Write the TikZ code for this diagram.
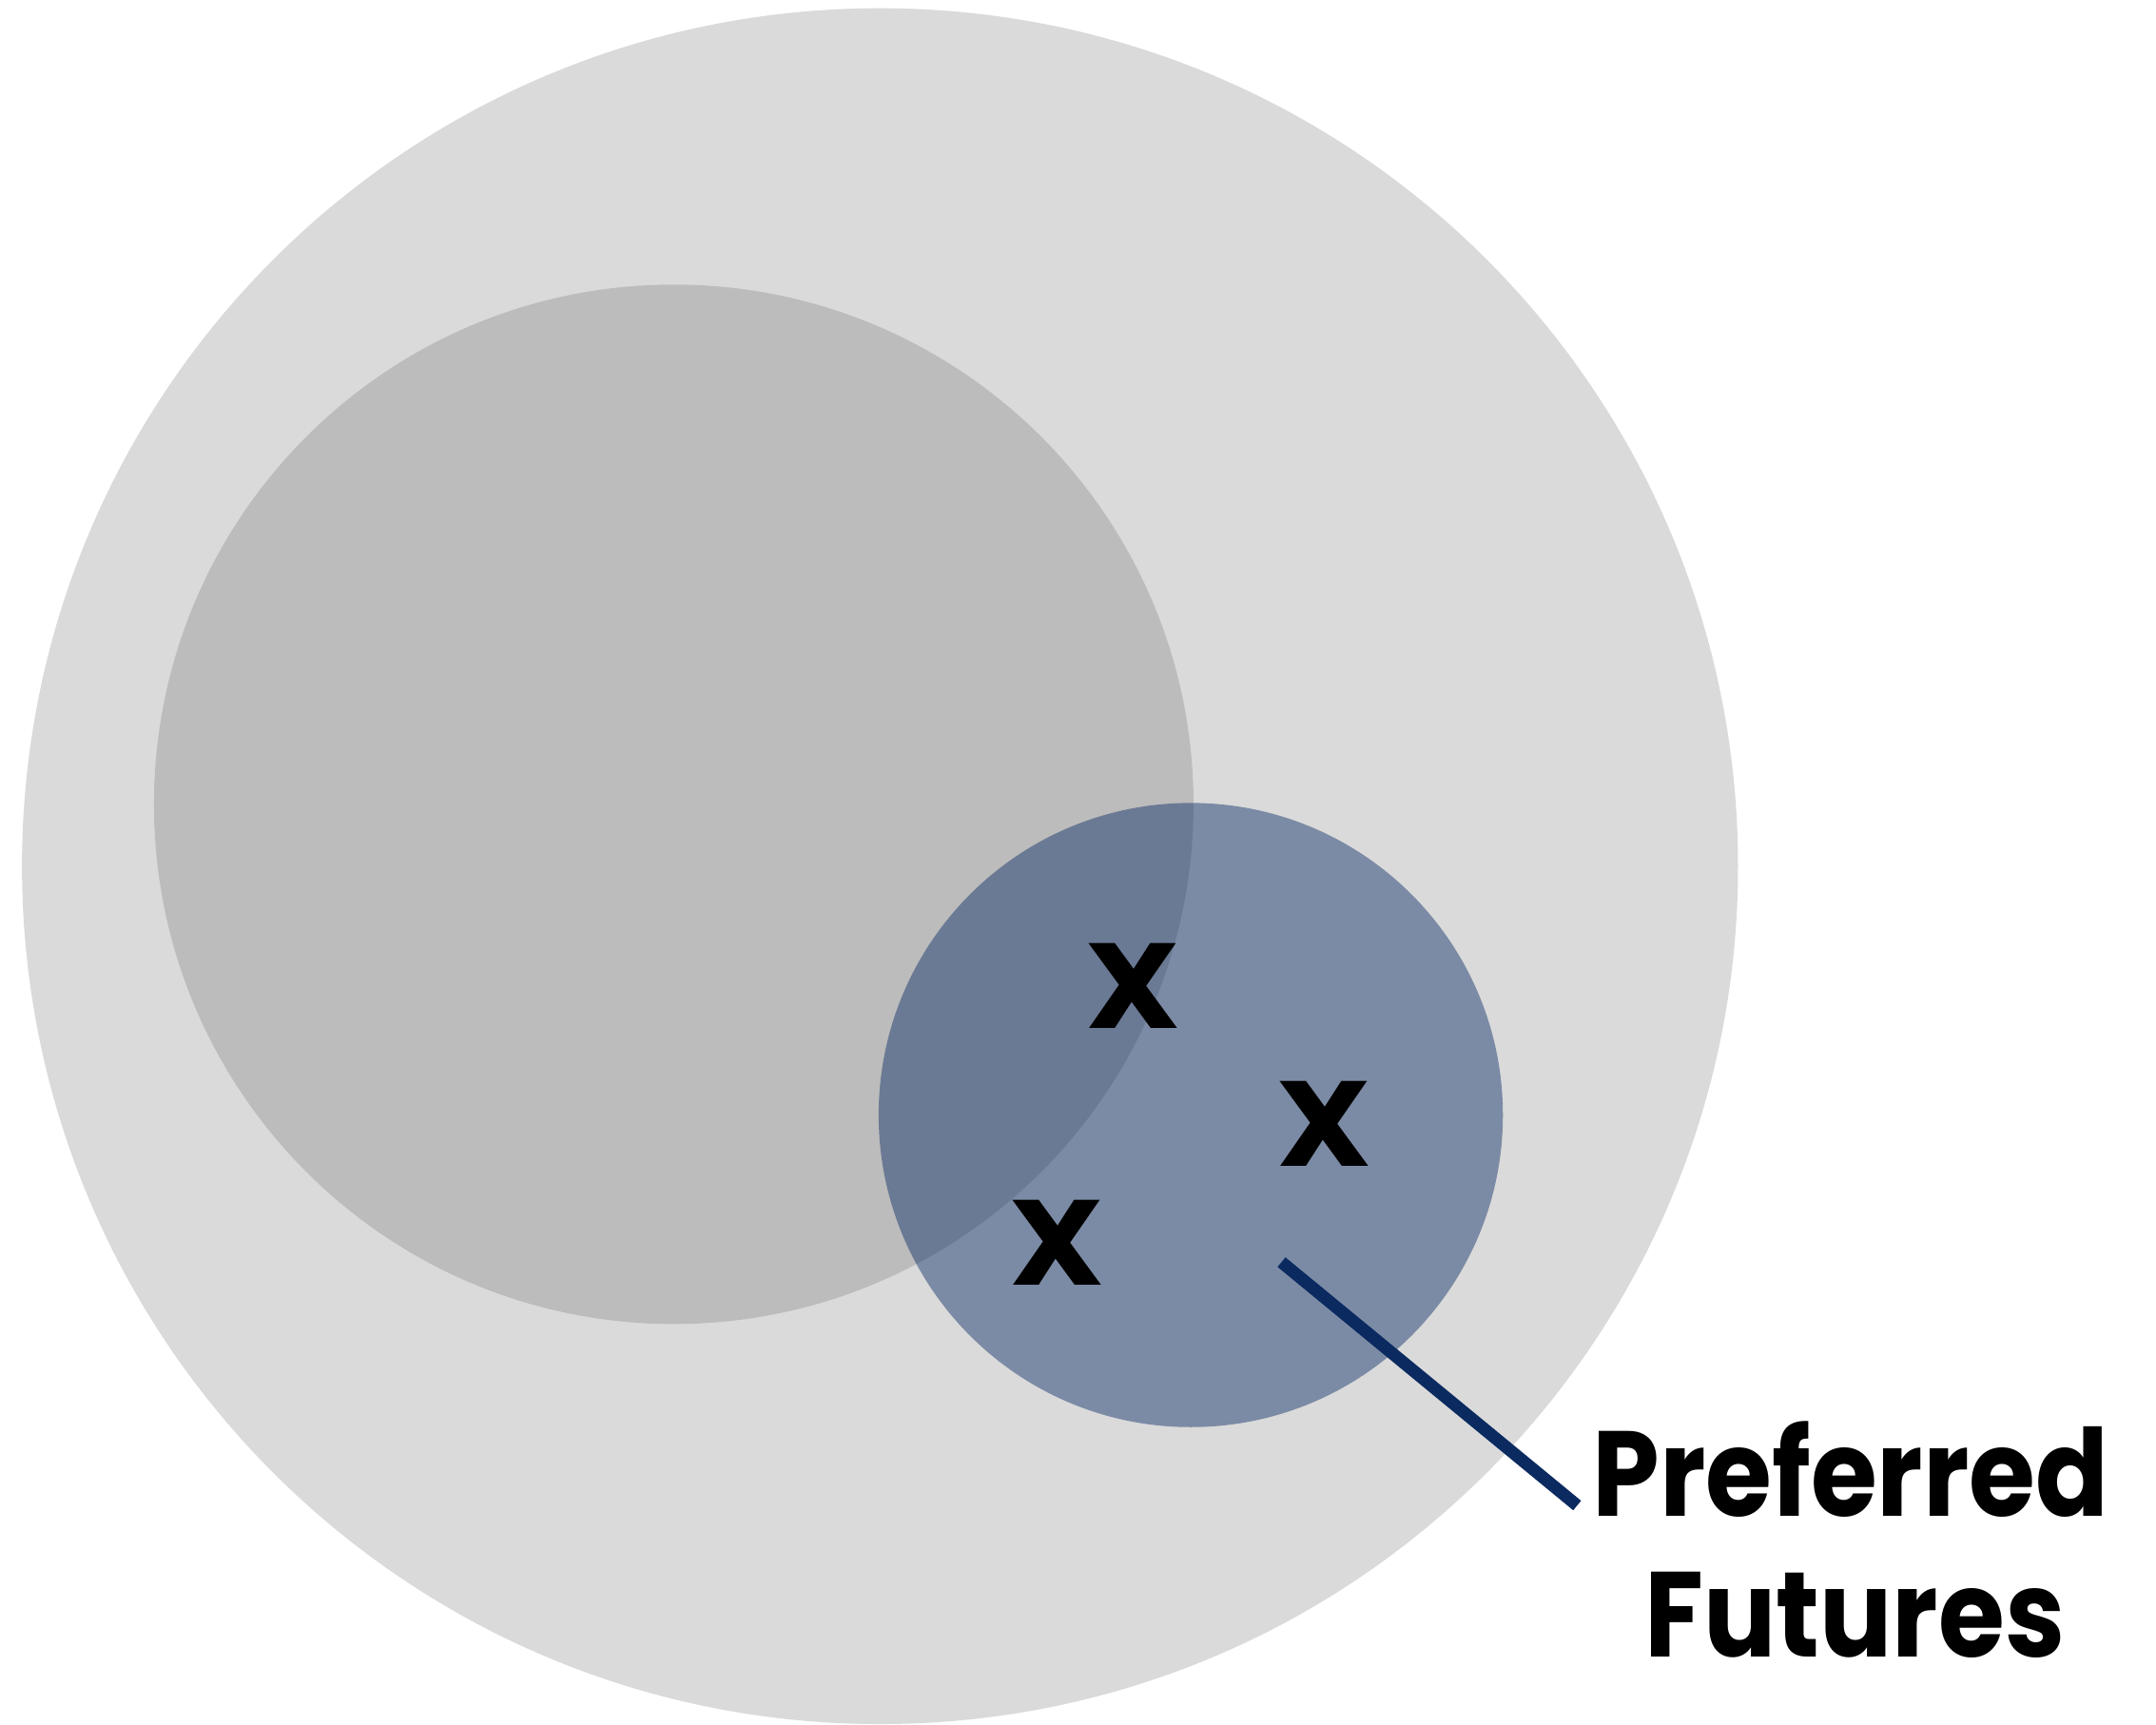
\documentclass[tikz,border=0pt]{standalone}
\usepackage{fontspec}
\setmainfont{Poppins}[BoldFont={* Bold}]
\definecolor{outergray}{RGB}{218,218,218}
\definecolor{midgray}{RGB}{188,188,188}
\definecolor{navy}{RGB}{10,42,96}
\definecolor{blueov}{RGB}{1,36,96}
\begin{document}
\begin{tikzpicture}[x=0.5pt,y=-0.5pt,
  mark x/.style={font=\bfseries\fontsize{44}{44}\selectfont, inner sep=0pt, anchor=base},
  label text/.style={font=\bfseries\fontsize{44}{51}\selectfont, inner sep=0pt, anchor=base}]
\useasboundingbox (0,0) rectangle (1568,1254);
\fill[outergray] (640,630) circle[radius=624];
\fill[midgray] (490,585) circle[radius=378];
\fill[blueov, fill opacity=0.43] (866,811) circle[radius=227];
\node[mark x] (x1) at (824,748) {\scalebox{1.1}[1]{X}};
\node[mark x] (x2) at (963,848) {\scalebox{1.1}[1]{X}};
\node[mark x] (x3) at (769,935) {\scalebox{1.1}[1]{X}};
\node[label text] (l1) at (1346,1103) {\scalebox{0.89}[1]{Preferred}};
\node[label text] (l2) at (1349,1205) {\scalebox{0.89}[1]{Futures}};
\coordinate (p) at (932,918);
\coordinate (q) at (1147,1095);
\draw[navy, line width=4.5pt] (p) -- (q);
\end{tikzpicture}
\end{document}
